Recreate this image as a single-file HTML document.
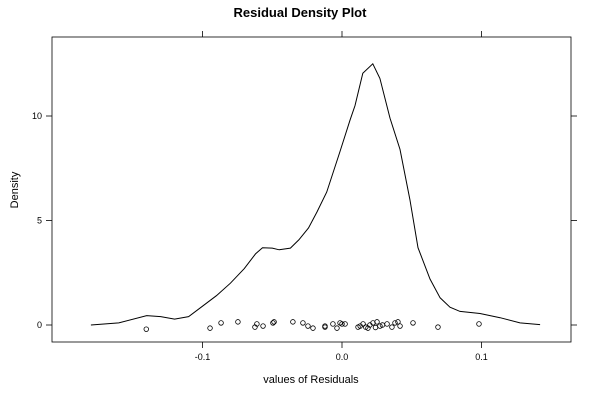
<!DOCTYPE html>
<html><head><meta charset="utf-8"><style>
body{margin:0;background:#fff}
svg{display:block;font-family:"Liberation Sans",sans-serif}
</style></head><body>
<svg id="chart" width="600" height="400">
<rect width="600" height="400" fill="#fff"/>
<text x="300" y="17" text-anchor="middle" font-weight="bold" font-size="13">Residual Density Plot</text>
<rect x="52" y="37" width="519" height="305" fill="none" stroke="#000" stroke-width="0.8"/>
<g id="axes"></g>
<path id="curve" fill="none" stroke="#000" stroke-width="1"/>
<g id="rug"></g>
<text x="311" y="383" text-anchor="middle" font-size="11">values of Residuals</text>
<text x="18" y="190" text-anchor="middle" font-size="11" transform="rotate(-90 18 190)">Density</text>
</svg>
<script>
const xTicks=[-0.1,0.0,0.1];
const xTickLabels=["-0.1","0.0","0.1"];
const yTicks=[0,5,10];
const yTickLabels=["0","5","10"];
const densX=[-0.18,-0.16,-0.14,-0.13,-0.12,-0.11,-0.1,-0.09,-0.08,-0.07,-0.062,-0.057,-0.05,-0.045,-0.037,-0.031,-0.024,-0.018,-0.011,-0.0014,0.0057,0.0093,0.0149,0.0221,0.0272,0.0344,0.0416,0.0487,0.0545,0.0631,0.0703,0.0774,0.0846,0.0989,0.1133,0.1276,0.142];
const densY=[0,0.1,0.45,0.4,0.28,0.4,0.9,1.4,2.0,2.7,3.4,3.7,3.68,3.6,3.68,4.07,4.64,5.4,6.36,8.3,9.8,10.5,12.05,12.5,11.8,9.9,8.4,6.0,3.7,2.2,1.3,0.85,0.65,0.55,0.35,0.1,0.02];
const rugX=[-0.1403,-0.0946,-0.0867,-0.0746,-0.0624,-0.061,-0.0566,-0.0495,-0.0487,-0.0352,-0.028,-0.0244,-0.0208,-0.0122,-0.0122,-0.0065,-0.0036,-0.0014,0.0022,0.0115,0.0151,0.0186,0.0222,0.0251,0.0272,0.0323,0.0358,0.0401,0.0416,0.0509,0.0688,0.0982,0.017,0.02,0.024,0.029,0.038,0.0,0.013];
const rugY=[-0.2,-0.15,0.1,0.15,-0.1,0.05,-0.05,0.1,0.15,0.15,0.1,-0.05,-0.15,-0.05,-0.1,0.05,-0.15,0.1,0.05,-0.1,0.05,-0.15,0.1,0.15,-0.05,0.05,-0.1,0.15,-0.05,0.1,-0.1,0.05,-0.1,0.0,-0.12,0.0,0.1,0.05,-0.05];
const X=v=>342+v*1395;
const Y=v=>325-v*20.9;
const ns="http://www.w3.org/2000/svg";
const axes=document.getElementById('axes');
function mk(tag,attrs,parent){const e=document.createElementNS(ns,tag);for(const k in attrs)e.setAttribute(k,attrs[k]);parent.appendChild(e);return e;}
xTicks.forEach((t,i)=>{
  const g=mk('g',{},axes);
  
  
  mk('line',{x1:X(t),x2:X(t),y1:342,y2:348,stroke:'#000','stroke-width':0.8},g);
  mk('line',{x1:X(t),x2:X(t),y1:31,y2:37,stroke:'#000','stroke-width':0.8},g);
  const tx=mk('text',{x:X(t),y:360,'text-anchor':'middle','font-size':9},g);tx.textContent=xTickLabels[i];
});
yTicks.forEach((t,i)=>{
  const g=mk('g',{},axes);
  
  
  mk('line',{x1:46,x2:52,y1:Y(t),y2:Y(t),stroke:'#000','stroke-width':0.8},g);
  mk('line',{x1:571,x2:577,y1:Y(t),y2:Y(t),stroke:'#000','stroke-width':0.8},g);
  const tx=mk('text',{x:42,y:Y(t)+3,'text-anchor':'end','font-size':9},g);tx.textContent=yTickLabels[i];
});
document.getElementById('curve').setAttribute('d',densX.map((x,i)=>(i?'L':'M')+X(x).toFixed(1)+','+Y(densY[i]).toFixed(1)).join(''));
const rug=document.getElementById('rug');
rugX.forEach((x,i)=>{
  const c=mk('circle',{cx:X(x),cy:Y(rugY[i]),r:2.3,fill:'none',stroke:'#000','stroke-width':0.8},rug);
  
  
});
</script>
</body></html>
